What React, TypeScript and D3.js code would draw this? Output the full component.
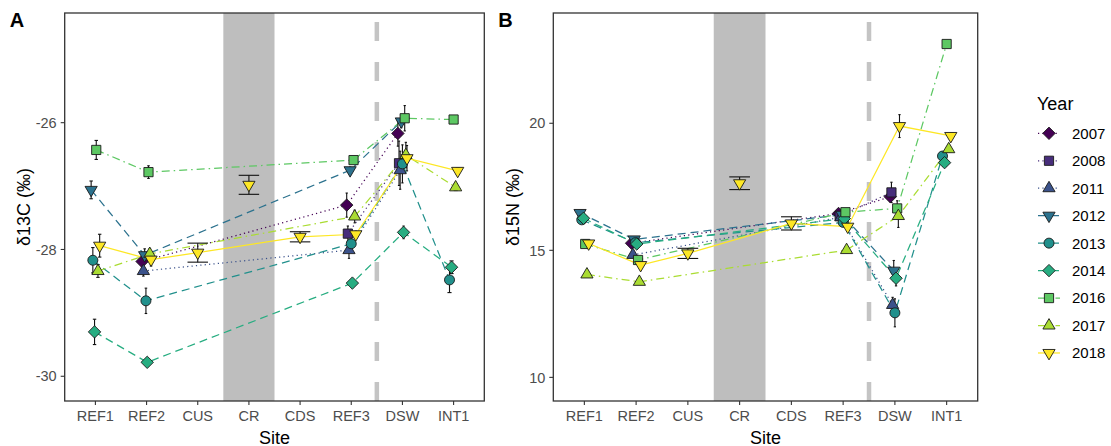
import React from "react";
import * as d3 from "d3";

// Sites along the transect, in plotting order
const sites = ["REF1", "REF2", "CUS", "CR", "CDS", "REF3", "DSW", "INT1"];
// Sampling years with their viridis colour, point shape and line style
const years = ["2007", "2008", "2011", "2012", "2013", "2014", "2016", "2017", "2018"];
const yearColors = ["#440154", "#472D7B", "#3B528B", "#2C728E", "#21908C", "#27AD81", "#5DC863", "#AADC32", "#FDE725"];
const yearShapes = ["diamond", "square", "up", "down", "circle", "diamond", "square", "up", "down"];
const yearLines = ["dotted", "dotted", "dotted", "dashed", "dashed", "dashed", "dotdash", "dotdash", "solid"];

// Site CR is shown as an isolated point, not joined into the year lines
const unlinkedSites = ["CR"];

// δ13C: [year, site, mean, sd]
const carbon: [string, string, number, number][] = [
  ["2007", "REF2", -28.19, 0.05], ["2007", "REF3", -27.3, 0.19], ["2007", "DSW", -26.17, 0.2],
  ["2008", "REF3", -27.75, 0.12], ["2008", "DSW", -26.64, 0.35],
  ["2011", "REF2", -28.34, 0.08], ["2011", "REF3", -28.01, 0.13], ["2011", "DSW", -26.75, 0.3],
  ["2012", "REF1", -27.06, 0.14], ["2012", "REF2", -28.09, 0.1], ["2012", "REF3", -26.75, 0.05], ["2012", "DSW", -25.98, 0.1],
  ["2013", "REF1", -28.17, 0.2], ["2013", "REF2", -28.81, 0.2], ["2013", "REF3", -27.91, 0.1], ["2013", "DSW", -26.65, 0.3], ["2013", "INT1", -28.48, 0.2],
  ["2014", "REF1", -29.3, 0.2], ["2014", "REF2", -29.78, 0.05], ["2014", "REF3", -28.53, 0.05], ["2014", "DSW", -27.73, 0.1], ["2014", "INT1", -28.28, 0.1],
  ["2016", "REF1", -26.43, 0.15], ["2016", "REF2", -26.78, 0.1], ["2016", "REF3", -26.59, 0.05], ["2016", "DSW", -25.93, 0.2], ["2016", "INT1", -25.95, 0.05],
  ["2017", "REF1", -28.34, 0.1], ["2017", "REF2", -28.07, 0.08], ["2017", "REF3", -27.48, 0.1], ["2017", "DSW", -26.51, 0.2], ["2017", "INT1", -27.02, 0.05],
  ["2018", "REF1", -27.94, 0.18], ["2018", "REF2", -28.16, 0.1], ["2018", "CUS", -28.05, 0.15], ["2018", "CR", -26.98, 0.15],
  ["2018", "CDS", -27.8, 0.08], ["2018", "REF3", -27.76, 0.05], ["2018", "DSW", -26.56, 0.2], ["2018", "INT1", -26.76, 0.05],
];

// δ15N: [year, site, mean, sd]
const nitrogen: [string, string, number, number][] = [
  ["2007", "REF2", 15.28, 0.1], ["2007", "REF3", 16.45, 0.1], ["2007", "DSW", 17.11, 0.2],
  ["2008", "REF3", 16.35, 0.1], ["2008", "DSW", 17.28, 0.4],
  ["2011", "REF2", 14.82, 0.1], ["2011", "REF3", 16.3, 0.1], ["2011", "DSW", 12.85, 0.3],
  ["2012", "REF1", 16.47, 0.1], ["2012", "REF2", 15.43, 0.1], ["2012", "REF3", 16.4, 0.1], ["2012", "DSW", 14.2, 0.4],
  ["2013", "REF1", 16.2, 0.1], ["2013", "REF2", 15.3, 0.1], ["2013", "REF3", 16.1, 0.1], ["2013", "DSW", 12.54, 0.55], ["2013", "INT1", 18.71, 0.15],
  ["2014", "REF1", 16.26, 0.1], ["2014", "REF2", 15.25, 0.1], ["2014", "REF3", 16.25, 0.1], ["2014", "DSW", 13.9, 0.3], ["2014", "INT1", 18.45, 0.15],
  ["2016", "REF1", 15.25, 0.1], ["2016", "REF2", 14.62, 0.1], ["2016", "REF3", 16.5, 0.1], ["2016", "DSW", 16.65, 0.3], ["2016", "INT1", 23.12, 0.12],
  ["2017", "REF1", 14.05, 0.1], ["2017", "REF2", 13.76, 0.1], ["2017", "REF3", 15.01, 0.1], ["2017", "DSW", 16.35, 0.45], ["2017", "INT1", 18.98, 0.1],
  ["2018", "REF1", 15.27, 0.1], ["2018", "REF2", 14.42, 0.1], ["2018", "CUS", 14.88, 0.2], ["2018", "CR", 17.64, 0.25],
  ["2018", "CDS", 16.06, 0.26], ["2018", "REF3", 15.93, 0.1], ["2018", "DSW", 19.89, 0.45], ["2018", "INT1", 19.5, 0.1],
];

const carbonTicks = [-30, -28, -26];
const nitrogenTicks = [10, 15, 20];

const FONT = "'Liberation Sans', Arial, Helvetica, sans-serif";
const DODGE = 0.2;
const ERR_W = 0.4;

const dashFor = (lt: string) =>
  lt === "dotted" ? "1.2 3.2" : lt === "dashed" ? "8 5" : lt === "dotdash" ? "8 4 1.5 4" : undefined;

function symbolPath(shape: string): string {
  switch (shape) {
    case "circle": {
      const r = 5;
      return `M${-r},0A${r},${r} 0 1,0 ${r},0A${r},${r} 0 1,0 ${-r},0Z`;
    }
    case "square":
      return "M-4.6,-4.6H4.6V4.6H-4.6Z";
    case "diamond":
      return "M0,-6.2L6.2,0L0,6.2L-6.2,0Z";
    case "up":
      return "M0,-6.9L6.1,3.5L-6.1,3.5Z";
    case "down":
      return "M0,6.9L6.1,-3.5L-6.1,-3.5Z";
  }
  return "";
}

type Row = [string, string, number, number];

interface PanelProps {
  rows: Row[];
  x0: number;
  x1: number;
  yDomain: [number, number];
  ticks: number[];
  label: string;
  title: string;
  titleX: number;
}

function Panel({ rows, x0, x1, yDomain, ticks, label, title, titleX }: PanelProps) {
  const top = 13;
  const bottom = 401;
  const x = d3.scaleLinear().domain([-0.6, sites.length - 1 + 0.6]).range([x0, x1]);
  const y = d3.scaleLinear().domain(yDomain).range([bottom, top]);

  // dodge positions: groups present at each site, ordered by year
  const bySite = d3.group(rows, (r) => r[1]);
  const pos = new Map<Row, { cx: number; n: number }>();
  for (const [site, rs] of bySite) {
    const sorted = [...rs].sort((a, b) => years.indexOf(a[0]) - years.indexOf(b[0]));
    const n = sorted.length;
    const si = sites.indexOf(site);
    sorted.forEach((r, i) => {
      const off = DODGE * ((i + 0.5) / n - 0.5);
      pos.set(r, { cx: x(si + off), n });
    });
  }

  const line = d3
    .line<Row>()
    .x((r) => pos.get(r)!.cx)
    .y((r) => y(r[2]));

  const unit = x(1) - x(0);
  const crI = sites.indexOf("CR");
  const cutX = x(5.5);
  const midY = (top + bottom) / 2;
  const xMid = (x0 + x1) / 2;

  return (
    <g>
      {/* CR shading and the divider between REF3 and DSW */}
      <rect x={x(crI - 0.5)} y={top} width={x(crI + 0.5) - x(crI - 0.5)} height={bottom - top} fill="#BEBEBE" />
      <line x1={cutX} x2={cutX} y1={bottom} y2={top} stroke="#C4C4C4" strokeWidth={4.5} strokeDasharray="19 21" />

      {/* year lines */}
      {years.map((yr, yi) => {
        const rs = rows
          .filter((r) => r[0] === yr && !unlinkedSites.includes(r[1]))
          .sort((a, b) => sites.indexOf(a[1]) - sites.indexOf(b[1]));
        if (rs.length < 2) return null;
        return (
          <path
            key={yr}
            d={line(rs) || ""}
            fill="none"
            stroke={yearColors[yi]}
            strokeWidth={1.25}
            strokeDasharray={dashFor(yearLines[yi])}
          />
        );
      })}

      {/* error bars */}
      {rows.map((r, i) => {
        const p = pos.get(r)!;
        const hw = ((ERR_W / p.n) * unit) / 2;
        const yt = y(r[2] + r[3]);
        const yb = y(r[2] - r[3]);
        return (
          <g key={"e" + i} stroke="#111" strokeWidth={1.1}>
            <line x1={p.cx} x2={p.cx} y1={yt} y2={yb} />
            <line x1={p.cx - hw} x2={p.cx + hw} y1={yt} y2={yt} />
            <line x1={p.cx - hw} x2={p.cx + hw} y1={yb} y2={yb} />
          </g>
        );
      })}

      {/* points, drawn year by year */}
      {years.map((yr, yi) =>
        rows
          .filter((r) => r[0] === yr)
          .map((r, i) => {
            const p = pos.get(r)!;
            return (
              <path
                key={yr + i}
                d={symbolPath(yearShapes[yi])}
                transform={`translate(${p.cx},${y(r[2])})`}
                fill={yearColors[yi]}
                stroke="#1a1a1a"
                strokeWidth={0.9}
              />
            );
          })
      )}

      {/* frame */}
      <rect x={x0} y={top} width={x1 - x0} height={bottom - top} fill="none" stroke="#333" strokeWidth={1.3} />

      {/* y axis */}
      {ticks.map((t) => (
        <g key={t}>
          <line x1={x0 - 4} x2={x0} y1={y(t)} y2={y(t)} stroke="#333" strokeWidth={1.1} />
          <text x={x0 - 8} y={y(t) + 5.2} textAnchor="end" fontSize={14.5} fill="#4D4D4D" fontFamily={FONT}>
            {t}
          </text>
        </g>
      ))}

      {/* x axis */}
      {sites.map((s, i) => (
        <g key={s}>
          <line x1={x(i)} x2={x(i)} y1={bottom} y2={bottom + 4} stroke="#333" strokeWidth={1.1} />
          <text x={x(i)} y={420.7} textAnchor="middle" fontSize={14.5} fill="#4D4D4D" fontFamily={FONT}>
            {s}
          </text>
        </g>
      ))}

      <text x={xMid} y={443.5} textAnchor="middle" fontSize={18} fill="#000" fontFamily={FONT}>
        Site
      </text>
      <text
        transform={`translate(${titleX},${midY}) rotate(-90)`}
        textAnchor="middle"
        fontSize={18}
        fill="#000"
        fontFamily={FONT}
      >
        {title}
      </text>
      <text x={x0 - 55} y={26.5} fontSize={20} fontWeight="bold" fontFamily={FONT}>
        {label}
      </text>
    </g>
  );
}

function Legend() {
  const lx = 1037;
  const y0 = 133.3;
  const step = 27.46;
  return (
    <g fontFamily={FONT}>
      <text x={lx} y={109.5} fontSize={18}>
        Year
      </text>
      {years.map((yr, i) => {
        const cy = y0 + i * step;
        return (
          <g key={yr}>
            <line
              x1={1038}
              x2={1060}
              y1={cy}
              y2={cy}
              stroke={yearColors[i]}
              strokeWidth={1.25}
              strokeDasharray={dashFor(yearLines[i])}
            />
            <path
              d={symbolPath(yearShapes[i])}
              transform={`translate(1049,${cy})`}
              fill={yearColors[i]}
              stroke="#1a1a1a"
              strokeWidth={0.9}
            />
            <text x={1072} y={cy + 5.4} fontSize={15} fill="#000">
              {yr}
            </text>
          </g>
        );
      })}
    </g>
  );
}

export default function App() {
  return (
    <svg
      width={1111}
      height={446}
      style={{ position: "absolute", left: 0, top: 0, background: "#fff" }}
    >
      <rect width={1111} height={446} fill="#fff" />
      <Panel
        rows={carbon}
        x0={64.7}
        x1={484.3}
        yDomain={[-30.39, -24.27]}
        ticks={carbonTicks}
        label="A"
        title="δ13C (‰)"
        titleX={30}
      />
      <Panel
        rows={nitrogen}
        x0={553.3}
        x1={977.7}
        yDomain={[9.07, 24.34]}
        ticks={nitrogenTicks}
        label="B"
        title="δ15N (‰)"
        titleX={519}
      />
      <Legend />
    </svg>
  );
}
